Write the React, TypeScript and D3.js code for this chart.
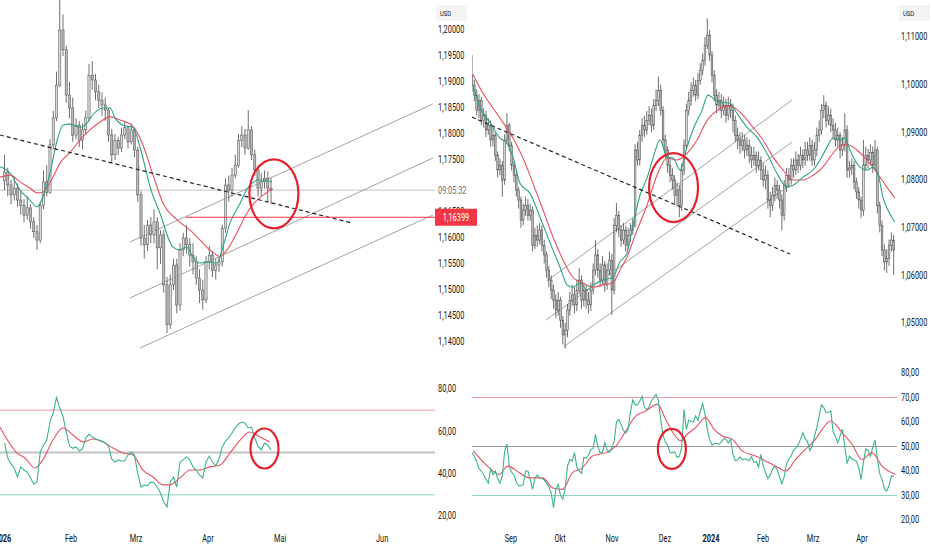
import * as d3 from "d3";
import { useEffect, useRef } from "react";

type Candle = [number, number, number, number]; // open, high, low, close (1/10000)
type Knot = [number, number]; // bar index, value

// ---- left chart: EUR/USD daily, Jan – Apr 2026 ----
const leftCandles: Candle[] = [
  [11710, 11760, 11692, 11727], [11727, 11735, 11680, 11702], [11702, 11712, 11665, 11683], [11683, 11718, 11672, 11696],
  [11696, 11705, 11660, 11673], [11673, 11690, 11645, 11663], [11663, 11675, 11630, 11644], [11644, 11680, 11635, 11658],
  [11658, 11665, 11618, 11631], [11631, 11640, 11600, 11612], [11612, 11625, 11577, 11596], [11596, 11670, 11590, 11663],
  [11663, 11730, 11655, 11708], [11708, 11740, 11680, 11688], [11688, 11790, 11685, 11779], [11779, 11845, 11770, 11831],
  [11831, 11920, 11825, 11894], [11894, 12058, 11890, 12000], [12000, 12030, 11950, 11962], [11962, 11970, 11860, 11875],
  [11875, 11900, 11830, 11850], [11850, 11870, 11785, 11798], [11798, 11830, 11790, 11817], [11817, 11825, 11775, 11788],
  [11788, 11820, 11770, 11808], [11808, 11845, 11800, 11831], [11831, 11935, 11825, 11913], [11913, 11940, 11885, 11904],
  [11904, 11915, 11865, 11881], [11881, 11895, 11850, 11865], [11865, 11880, 11835, 11856], [11856, 11870, 11825, 11846],
  [11846, 11850, 11785, 11798], [11798, 11810, 11745, 11760], [11760, 11800, 11750, 11788], [11788, 11795, 11760, 11773],
  [11773, 11812, 11765, 11798], [11798, 11825, 11790, 11812], [11812, 11815, 11772, 11785], [11785, 11820, 11780, 11808],
  [11808, 11812, 11755, 11769], [11769, 11775, 11670, 11683], [11683, 11690, 11585, 11600], [11600, 11625, 11560, 11587],
  [11587, 11635, 11575, 11625], [11625, 11640, 11590, 11606], [11606, 11655, 11590, 11631], [11631, 11640, 11540, 11581],
  [11581, 11615, 11550, 11606], [11606, 11615, 11495, 11510], [11510, 11525, 11417, 11433], [11433, 11530, 11425, 11510],
  [11510, 11560, 11500, 11548], [11548, 11560, 11455, 11471], [11471, 11590, 11460, 11577], [11577, 11610, 11565, 11600],
  [11600, 11625, 11570, 11587], [11587, 11600, 11545, 11567], [11567, 11590, 11530, 11554], [11554, 11565, 11510, 11523],
  [11523, 11540, 11475, 11500], [11500, 11520, 11462, 11481], [11481, 11565, 11475, 11554], [11554, 11585, 11540, 11567],
  [11567, 11575, 11525, 11538], [11538, 11560, 11520, 11548], [11548, 11565, 11535, 11554], [11554, 11625, 11545, 11619],
  [11619, 11715, 11610, 11702], [11702, 11720, 11670, 11692], [11692, 11735, 11680, 11721], [11721, 11760, 11715, 11740],
  [11740, 11800, 11735, 11788], [11788, 11815, 11775, 11798], [11798, 11810, 11760, 11773], [11773, 11846, 11770, 11808],
  [11808, 11815, 11750, 11760], [11760, 11770, 11720, 11731], [11731, 11740, 11680, 11696], [11696, 11725, 11680, 11708],
  [11708, 11730, 11695, 11715], [11715, 11728, 11670, 11696], [11696, 11715, 11665, 11692],
];

const leftMaFast: Knot[] = [
  [-1.4, 11737], [1.7, 11725], [4.8, 11692], [7.8, 11673], [10, 11660], [11.8, 11679], [14, 11725], [16.2, 11788],
  [18, 11817], [20.2, 11819], [23.2, 11813], [25.4, 11821], [27.2, 11837], [30.3, 11850], [32.5, 11850], [34, 11831],
  [36.5, 11817], [39.5, 11813], [41.7, 11775], [44.8, 11698], [47.8, 11648], [51.8, 11583], [54, 11577], [56, 11583],
  [58, 11563], [60, 11552], [62.3, 11554], [65.4, 11552], [67.2, 11583], [69.4, 11629], [72.5, 11667], [75, 11698],
  [78.6, 11712], [82.3, 11708],
];

const leftMaSlow: Knot[] = [
  [-1.4, 11717], [1.7, 11721], [4.8, 11708], [7.8, 11696], [10, 11687], [11.8, 11688], [14.9, 11717], [17.1, 11744],
  [20.2, 11765], [23.2, 11788], [26.3, 11808], [29.4, 11823], [32.5, 11833], [35.5, 11827], [39.5, 11815], [42.6, 11779],
  [45.7, 11721], [48.8, 11667], [53.1, 11635], [57.1, 11615], [60.2, 11596], [63.2, 11577], [66.3, 11565], [68.5, 11577],
  [71.5, 11610], [74.6, 11648], [77.7, 11673], [80.8, 11688], [82.3, 11696],
];

const leftRsi = [
  54.5, 47.4, 44.6, 42.7, 38.4, 43.2, 41.7, 40.8, 38, 35.1, 36, 50.2, 53.5, 55.9, 64.4, 69, 76, 71, 67, 59.7,
  53, 52, 52.6, 50.7, 51.7, 56.9, 58.7, 57.3, 56.4, 55.9, 55.4, 54.5, 53, 47, 45.5, 46.5, 46, 46, 48.8, 50.2,
  48.8, 39.9, 33.7, 34.7, 34.2, 36.1, 35.6, 33.7, 30.9, 26.6, 24.3, 36.1, 38.4, 33.7, 45.5, 46.5, 47.9, 46.5, 43.2, 41.7,
  39.4, 38, 45.5, 48.3, 45.5, 43.6, 47, 52.6, 55.4, 56.9, 59.2, 61.6, 63.5, 64.4, 63.9, 61.6, 62, 56.9, 53, 51.2,
  54.5, 53.5, 51.2,
];

const leftRsiMa: Knot[] = [
  [-1.4, 62], [3.8, 49.8], [6.3, 47.4], [9.4, 42.7], [11.8, 46.5], [14.9, 55.9], [18, 61.6], [21.1, 58.3],
  [24.2, 55], [27.2, 56.4], [30.3, 55], [33.4, 52.1], [36.5, 49.8], [39.5, 48.8], [42.6, 41.7], [45.7, 38.4],
  [48.8, 34.7], [50.9, 34.7], [54, 38], [57.1, 41.7], [60.2, 41.7], [63.2, 43.2], [66.3, 44.1], [69.4, 49.8],
  [72.5, 55.9], [75.5, 59.7], [78.6, 57.3], [81.7, 55],
];

const leftPriceTicks = [1.14, 1.145, 1.15, 1.155, 1.16, 1.165, 1.175, 1.18, 1.185, 1.19, 1.195, 1.2];
const leftDateTicks = [
  { label: "2026", bar: -0.5, year: true }, { label: "Feb", bar: 20.5, year: false },
  { label: "Mrz", bar: 40.5, year: false }, { label: "Apr", bar: 62.6, year: false },
  { label: "Mai", bar: 84.8, year: false }, { label: "Jun", bar: 116.2, year: false },
];
const leftLevel = 1.16399;
const leftLevelFrom = 55.8;
const leftCountdown = "09:05:32";
const leftDashed: Knot[] = [[-1.4, 1.17981], [106.9, 1.16288]];
const leftChannel: Knot[][] = [
  [[38.6, 1.15923], [131.8, 1.18577]],
  [[38.6, 1.14846], [131.8, 1.17538]],
  [[41.7, 1.13885], [131.8, 1.16442]],
];
const leftCircle = { bar: 82.9, price: 1.1685, rsiBar: 80, rsi: 51.9 };

// ---- right chart: EUR/USD daily, Aug 2023 – Apr 2024 ----
const rightCandles: Candle[] = [
  [11020, 11062, 10985, 10999], [10999, 11010, 10965, 10978], [10978, 10990, 10935, 10946], [10946, 10980, 10930, 10967],
  [10967, 10975, 10915, 10925], [10925, 10950, 10910, 10936], [10936, 10945, 10890, 10905], [10905, 10930, 10895, 10915],
  [10915, 10925, 10870, 10884], [10884, 10910, 10870, 10894], [10894, 10900, 10840, 10852], [10852, 10860, 10805, 10821],
  [10821, 10845, 10810, 10831], [10831, 10840, 10765, 10800], [10800, 10895, 10790, 10884], [10884, 10940, 10875, 10915],
  [10915, 10920, 10860, 10873], [10873, 10880, 10820, 10831], [10831, 10840, 10795, 10810], [10810, 10820, 10765, 10779],
  [10779, 10785, 10740, 10758], [10758, 10765, 10700, 10716], [10716, 10750, 10705, 10737], [10737, 10765, 10725, 10747],
  [10747, 10760, 10715, 10726], [10726, 10750, 10715, 10737], [10737, 10745, 10650, 10663], [10663, 10700, 10655, 10684],
  [10684, 10705, 10660, 10674], [10674, 10710, 10665, 10695], [10695, 10705, 10650, 10663], [10663, 10675, 10625, 10643],
  [10643, 10650, 10595, 10611], [10611, 10620, 10575, 10590], [10590, 10600, 10550, 10569], [10569, 10580, 10530, 10548],
  [10548, 10560, 10510, 10527], [10527, 10565, 10515, 10548], [10548, 10555, 10490, 10506], [10506, 10515, 10455, 10475],
  [10475, 10500, 10446, 10485], [10485, 10540, 10470, 10527], [10527, 10565, 10515, 10548], [10548, 10580, 10535, 10559],
  [10559, 10575, 10520, 10538], [10538, 10590, 10525, 10569], [10569, 10615, 10560, 10590], [10590, 10600, 10530, 10548],
  [10548, 10585, 10535, 10569], [10569, 10580, 10530, 10548], [10548, 10565, 10520, 10538], [10538, 10585, 10525, 10569],
  [10569, 10625, 10560, 10611], [10611, 10674, 10600, 10643], [10643, 10655, 10595, 10611], [10611, 10625, 10575, 10590],
  [10590, 10640, 10580, 10622], [10622, 10630, 10565, 10580], [10580, 10625, 10570, 10611], [10611, 10650, 10600, 10632],
  [10632, 10645, 10517, 10569], [10569, 10720, 10560, 10705], [10705, 10752, 10690, 10726], [10726, 10735, 10680, 10695],
  [10695, 10705, 10660, 10674], [10674, 10710, 10665, 10695], [10695, 10705, 10650, 10663], [10663, 10700, 10655, 10684],
  [10684, 10710, 10670, 10695], [10695, 10720, 10685, 10705], [10705, 10875, 10700, 10863], [10863, 10880, 10830, 10842],
  [10842, 10905, 10830, 10894], [10894, 10930, 10880, 10915], [10915, 10935, 10890, 10905], [10905, 10945, 10895, 10925],
  [10925, 10955, 10915, 10936], [10936, 10950, 10900, 10915], [10915, 10970, 10905, 10957], [10957, 10990, 10945, 10967],
  [10967, 11017, 10955, 10988], [10988, 11000, 10935, 10946], [10946, 10955, 10870, 10884], [10884, 10895, 10845, 10863],
  [10863, 10870, 10815, 10831], [10831, 10845, 10795, 10810], [10810, 10825, 10780, 10800], [10800, 10810, 10750, 10768],
  [10768, 10795, 10745, 10779], [10779, 10790, 10722, 10747], [10747, 10835, 10735, 10821], [10821, 10885, 10810, 10873],
  [10873, 10960, 10865, 10946], [10946, 10985, 10935, 10967], [10967, 11005, 10955, 10988], [10988, 11015, 10975, 10999],
  [10999, 11010, 10965, 10978], [10978, 11025, 10970, 11009], [11009, 11045, 11000, 11030], [11030, 11065, 11020, 11051],
  [11051, 11100, 11040, 11083], [11083, 11139, 11075, 11104], [11104, 11115, 11050, 11062], [11062, 11070, 11005, 11020],
  [11020, 11030, 10965, 10978], [10978, 10990, 10940, 10957], [10957, 10985, 10945, 10967], [10967, 10980, 10930, 10946],
  [10946, 10975, 10935, 10957], [10957, 10970, 10920, 10936], [10936, 10975, 10925, 10957], [10957, 10970, 10930, 10946],
  [10946, 10960, 10900, 10925], [10925, 10935, 10880, 10894], [10894, 10910, 10865, 10884], [10884, 10900, 10855, 10873],
  [10873, 10900, 10860, 10884], [10884, 10895, 10845, 10863], [10863, 10890, 10850, 10873], [10873, 10885, 10835, 10852],
  [10852, 10870, 10825, 10842], [10842, 10870, 10830, 10852], [10852, 10860, 10815, 10831], [10831, 10860, 10820, 10842],
  [10842, 10850, 10800, 10821], [10821, 10835, 10785, 10800], [10800, 10830, 10780, 10810], [10810, 10820, 10740, 10758],
  [10758, 10775, 10722, 10747], [10747, 10785, 10735, 10768], [10768, 10805, 10755, 10789], [10789, 10800, 10760, 10779],
  [10779, 10790, 10740, 10758], [10758, 10770, 10695, 10726], [10726, 10800, 10715, 10789], [10789, 10825, 10775, 10810],
  [10810, 10825, 10785, 10800], [10800, 10845, 10790, 10831], [10831, 10845, 10805, 10821], [10821, 10860, 10810, 10842],
  [10842, 10855, 10815, 10831], [10831, 10870, 10820, 10852], [10852, 10865, 10825, 10842], [10842, 10880, 10830, 10863],
  [10863, 10880, 10840, 10852], [10852, 10890, 10840, 10873], [10873, 10885, 10830, 10842], [10842, 10880, 10830, 10863],
  [10863, 10910, 10850, 10894], [10894, 10925, 10880, 10905], [10905, 10960, 10895, 10946], [10946, 10978, 10930, 10957],
  [10957, 10965, 10910, 10925], [10925, 10955, 10915, 10936], [10936, 10950, 10900, 10915], [10915, 10930, 10885, 10905],
  [10905, 10920, 10870, 10884], [10884, 10910, 10870, 10894], [10894, 10900, 10845, 10863], [10863, 10890, 10850, 10873],
  [10873, 10940, 10860, 10905], [10905, 10915, 10805, 10821], [10821, 10840, 10805, 10825], [10825, 10845, 10810, 10831],
  [10831, 10840, 10780, 10796], [10796, 10805, 10760, 10775], [10775, 10785, 10740, 10758], [10758, 10765, 10720, 10737],
  [10737, 10884, 10725, 10831], [10831, 10870, 10820, 10852], [10852, 10865, 10825, 10842], [10842, 10875, 10830, 10858],
  [10858, 10870, 10815, 10831], [10831, 10884, 10820, 10863], [10863, 10870, 10730, 10747], [10747, 10755, 10690, 10705],
  [10705, 10715, 10640, 10653], [10653, 10665, 10610, 10628], [10628, 10655, 10605, 10636], [10636, 10675, 10620, 10663],
  [10663, 10690, 10650, 10674], [10674, 10685, 10601, 10653],
];

const rightMaFast: Knot[] = [
  [0.4, 10999], [3.4, 10953], [7.7, 10921], [12, 10888], [15, 10877], [17.6, 10848], [20.6, 10793], [24.9, 10772],
  [29.2, 10722], [33.5, 10668], [37.8, 10617], [40.8, 10580], [43.3, 10575], [46.4, 10584], [49.4, 10569], [51.9, 10580],
  [56.2, 10590], [60.5, 10596], [63.5, 10628], [66.5, 10647], [69.1, 10705], [72.1, 10768], [75.1, 10804], [77.7, 10846],
  [80.7, 10884], [83.7, 10848], [86.3, 10846], [89.3, 10821], [92.3, 10869], [94.8, 10905], [98.7, 10946], [101.3, 10978],
  [103.4, 10972], [106.4, 10963], [110.7, 10961], [113.7, 10940], [118, 10911], [122.3, 10890], [126.6, 10856], [130.9, 10814],
  [135.2, 10785], [137.8, 10789], [142.1, 10806], [146.4, 10821], [149.4, 10842], [152.4, 10869], [154.9, 10888], [157.9, 10884],
  [160.1, 10888], [162.2, 10863], [166.5, 10827], [169.5, 10821], [172.1, 10827], [174.2, 10814], [176.4, 10764], [178.5, 10737],
  [181.5, 10712],
];

const rightMaSlow: Knot[] = [
  [0.4, 11022], [4.7, 10982], [9, 10951], [13.3, 10921], [17.6, 10888], [21.9, 10846], [26.2, 10793], [30.5, 10737],
  [34.8, 10680], [39.1, 10632], [43.3, 10596], [47.6, 10584], [51.9, 10575], [56.2, 10580], [60.5, 10584], [63.5, 10611],
  [66.5, 10638], [70, 10684], [75.1, 10747], [79.4, 10810], [83.7, 10846], [88, 10842], [92.3, 10856], [96.6, 10884],
  [100.9, 10925], [105.2, 10946], [109.4, 10955], [112, 10953], [116.3, 10936], [120.6, 10911], [124.9, 10884], [129.2, 10848],
  [133.5, 10821], [137.8, 10800], [142.1, 10800], [146.4, 10810], [150.6, 10827], [154.9, 10856], [159.2, 10875], [162.2, 10873],
  [165.2, 10863], [169.5, 10842], [172.1, 10827], [175.1, 10806], [178.1, 10785], [181.5, 10762],
];

const rightRsi = [
  47.5, 46, 44, 41, 40, 38.5, 36.6, 35, 41, 38.5, 40, 37, 35, 38, 48, 51, 42, 39.5, 38.4, 35.5,
  34, 34, 34.5, 40, 40, 36.5, 32.5, 37, 38.4, 37.2, 37, 36.3, 35, 33.5, 31, 25, 32.5, 34.5, 30, 28.5,
  33, 42, 44.7, 44, 47.5, 41.5, 40, 39, 45.5, 45.2, 46.5, 48.8, 49.2, 55, 50, 47.5, 47.5, 51.5, 48.5, 47.5,
  49.5, 52, 60, 61, 59, 56.5, 55.5, 57, 64, 69, 67, 67, 68.5, 70.5, 66, 65, 66.3, 68.5, 70, 71.3,
  68.7, 61, 54.5, 51.8, 50.5, 47.5, 47.5, 47.8, 45.6, 46, 49.5, 65.2, 57, 60.7, 60.3, 60, 62.5, 60.6, 64.5, 67.5,
  63.2, 57, 52.9, 50.6, 51.2, 51.3, 50.9, 51.8, 53.2, 53, 51.4, 52.9, 46.8, 44.2, 44.5, 45.8, 44.6, 45, 44.7, 44.3,
  45.8, 43.5, 43.8, 41.6, 46.8, 42, 39.3, 36.9, 38.3, 40.7, 42, 40.5, 37.5, 34.8, 37.7, 43, 45, 46, 48.6, 49.3,
  50.7, 52.9, 55.7, 53.2, 52, 48.2, 50.3, 54.2, 57.7, 62.5, 67, 65.9, 63.8, 64, 64.5, 56, 54, 51.5, 54.5, 57,
  50, 43, 46.1, 45.1, 44.5, 44, 41.3, 36.5, 43.5, 49, 48.5, 46, 49.5, 52.6, 45, 38.8, 36.6, 32.8, 31.9, 34,
  38, 37.8,
];

const rightRsiMa: Knot[] = [
  [0.6, 48.2], [7.4, 41.3], [11.7, 38.6], [15.3, 42], [20.3, 39.3], [24.6, 37.2], [30.3, 37.2], [34.6, 33.1],
  [38.9, 32.5], [43.1, 39.3], [47.4, 41.3], [51.7, 46.1], [57.4, 47.5], [61.7, 50.2], [66, 56.3], [70.3, 62.5],
  [74.6, 64.5], [79.6, 67.3], [83.1, 61.1], [86.7, 55], [89.6, 52.3], [92.4, 55], [96, 57.7], [100.3, 61.8],
  [103.9, 57], [107.4, 54.3], [111.7, 52.9], [116, 48.2], [121.7, 46.1], [126, 44.1], [130.3, 42], [134.6, 40],
  [138.9, 44.7], [143.1, 48.8], [147.4, 52.9], [150.3, 57], [153.9, 60.4], [158.9, 55.7], [163.1, 50.9], [167.4, 44.7],
  [171.7, 47.5], [176, 42], [181.7, 38.6],
];

const rightPriceTicks = [1.05, 1.06, 1.07, 1.08, 1.09, 1.1, 1.11];
const rightDateTicks = [
  { label: "Sep", bar: 16.7, year: false }, { label: "Okt", bar: 37.8, year: false },
  { label: "Nov", bar: 60.1, year: false }, { label: "Dez", bar: 82.8, year: false },
  { label: "2024", bar: 102.6, year: true }, { label: "Feb", bar: 124.9, year: false },
  { label: "Mrz", bar: 146.4, year: false }, { label: "Apr", bar: 167.4, year: false },
];
const rightDashed: Knot[] = [[0, 1.09319], [136.5, 1.06447]];
const rightChannel: Knot[][] = [
  [[32.2, 1.05881], [137.3, 1.09675]],
  [[31.8, 1.05063], [137.3, 1.08795]],
  [[39.1, 1.04497], [136.5, 1.07893]],
];
const rightCircle = { bar: 86.5, price: 1.07841, rsiBar: 85.8, rsi: 49 };

const leftRsiTicks = [20, 40, 60, 80];
const rightRsiTicks = [20, 30, 40, 50, 60, 70, 80];

const FONT = "Roboto, 'Liberation Sans', sans-serif";
const TEXT = "#131722";
const GREEN = "#2ba383";
const RED = "#e8505f";
const CIRCLE = "#e3202e";

const comma = (s: string) => s.replace(".", ",");

const panels = [
  {
    id: "l",
    candles: leftCandles, maFast: leftMaFast, maSlow: leftMaSlow, rsi: leftRsi, rsiMa: leftRsiMa,
    priceTicks: leftPriceTicks, dateTicks: leftDateTicks, rsiTicks: leftRsiTicks,
    dashed: leftDashed, channel: leftChannel, circle: leftCircle,
    level: leftLevel, levelFrom: leftLevelFrom, countdown: leftCountdown,
    barRange: [4.5, 271], plotX: [0, 435], priceDomain: [1.14, 1.2], priceRange: [342, 30],
    rsiRange: [516, 389], axisX: 438, bodyW: 2.2, midWidth: 2.2, midColor: "#c4c4c4",
  },
  {
    id: "r",
    candles: rightCandles, maFast: rightMaFast, maSlow: rightMaSlow, rsi: rightRsi, rsiMa: rightRsiMa,
    priceTicks: rightPriceTicks, dateTicks: rightDateTicks, rsiTicks: rightRsiTicks,
    dashed: rightDashed, channel: rightChannel, circle: rightCircle,
    level: null, levelFrom: 0, countdown: null,
    barRange: [472, 893.7], plotX: [472, 897], priceDomain: [1.05, 1.11], priceRange: [323, 37],
    rsiRange: [520, 373], axisX: 901, bodyW: 1.7, midWidth: 1, midColor: "#9a9a9a",
  },
];

function label(g, x, y, text, opts: any = {}) {
  g.append("text")
    .attr("transform", `translate(${x},${y}) scale(0.74,1)`)
    .attr("text-anchor", opts.anchor || "start")
    .attr("dominant-baseline", "central")
    .attr("font-family", FONT)
    .attr("font-size", opts.size || 10)
    .attr("font-weight", opts.bold ? 700 : 400)
    .attr("fill", opts.color || TEXT)
    .text(text);
}

function drawPanel(svg, defs, p) {
  const x = d3.scaleLinear().domain([0, p.candles.length - 1]).range(p.barRange);
  const y = d3.scaleLinear().domain(p.priceDomain).range(p.priceRange);
  const r = d3.scaleLinear().domain([20, 80]).range(p.rsiRange);
  const px = (v: number) => y(v / 10000);
  const [x0, x1] = p.plotX;

  defs.append("clipPath").attr("id", `clip-${p.id}`)
    .append("rect").attr("x", x0).attr("y", 0).attr("width", x1 - x0).attr("height", 530);
  const g = svg.append("g").attr("clip-path", `url(#clip-${p.id})`);

  // RSI bands
  const bands = [
    { v: 70, color: "#f29aa3", w: 1 },
    { v: 50, color: p.midColor, w: p.midWidth },
    { v: 30, color: "#8fd6bd", w: 1 },
  ];
  g.selectAll(".band").data(bands).join("line")
    .attr("x1", x0).attr("x2", x1)
    .attr("y1", (d) => r(d.v)).attr("y2", (d) => r(d.v))
    .attr("stroke", (d) => d.color).attr("stroke-width", (d) => d.w);

  // last price line
  if (p.countdown) {
    const last = p.candles[p.candles.length - 1][3];
    g.append("line").attr("x1", x0).attr("x2", x1).attr("y1", px(last)).attr("y2", px(last))
      .attr("stroke", "#cdbfc1").attr("stroke-width", 1);
  }

  // channel lines
  const seg = d3.line<Knot>().x((d) => x(d[0])).y((d) => y(d[1]));
  p.channel.forEach((c) => {
    g.append("path").attr("d", seg(c)).attr("stroke", "#8a8a8a").attr("stroke-width", 0.8).attr("fill", "none");
  });

  // candles
  const cg = g.append("g");
  cg.selectAll("line").data(p.candles).join("line")
    .attr("x1", (_d, i) => x(i)).attr("x2", (_d, i) => x(i))
    .attr("y1", (d) => px(d[1])).attr("y2", (d) => px(d[2]))
    .attr("stroke", "#4a4a4a").attr("stroke-width", 0.8);
  cg.selectAll("rect").data(p.candles).join("rect")
    .attr("x", (_d, i) => x(i) - p.bodyW / 2)
    .attr("y", (d) => px(Math.max(d[0], d[3])))
    .attr("width", p.bodyW)
    .attr("height", (d) => Math.max(0.8, Math.abs(px(d[0]) - px(d[3]))))
    .attr("fill", (d) => (d[3] >= d[0] ? "#d8d8d8" : "#b8b8b8"))
    .attr("stroke", "#4a4a4a").attr("stroke-width", 0.5);

  // moving averages
  const smooth = d3.line<Knot>().x((d) => x(d[0])).y((d) => px(d[1])).curve(d3.curveMonotoneX);
  g.append("path").attr("d", smooth(p.maSlow)).attr("fill", "none").attr("stroke", RED).attr("stroke-width", 1.1);
  g.append("path").attr("d", smooth(p.maFast)).attr("fill", "none").attr("stroke", GREEN).attr("stroke-width", 1.1);

  // dashed trend line
  g.append("path").attr("d", seg(p.dashed)).attr("stroke", "#222").attr("stroke-width", 1.2)
    .attr("stroke-dasharray", "4,3").attr("fill", "none");

  // horizontal level
  if (p.level) {
    g.append("line").attr("x1", x(p.levelFrom)).attr("x2", x1)
      .attr("y1", y(p.level)).attr("y2", y(p.level))
      .attr("stroke", "#f23645").attr("stroke-width", 1.2);
  }

  // RSI
  const rsiLine = d3.line<number>().x((_d, i) => x(i)).y((d) => r(d));
  const rsiMaLine = d3.line<Knot>().x((d) => x(d[0])).y((d) => r(d[1])).curve(d3.curveMonotoneX);
  g.append("path").attr("d", rsiMaLine(p.rsiMa)).attr("fill", "none").attr("stroke", RED).attr("stroke-width", 1.1);
  g.append("path").attr("d", rsiLine(p.rsi)).attr("fill", "none").attr("stroke", "#3bb48c").attr("stroke-width", 1.1);

  // highlight circles
  g.append("ellipse").attr("cx", x(p.circle.bar)).attr("cy", y(p.circle.price))
    .attr("rx", 24.5).attr("ry", 34.5).attr("fill", "none").attr("stroke", CIRCLE).attr("stroke-width", 2.2);
  g.append("ellipse").attr("cx", x(p.circle.rsiBar)).attr("cy", r(p.circle.rsi))
    .attr("rx", 14).attr("ry", 20).attr("fill", "none").attr("stroke", CIRCLE).attr("stroke-width", 2.2);

  // axes (outside clip)
  const a = svg.append("g");
  a.append("rect").attr("x", p.axisX - 2).attr("y", 5).attr("width", 31).attr("height", 16).attr("fill", "#f4f4f4");
  label(a, p.axisX + 2, 13, "USD", { size: 8 });
  p.priceTicks.forEach((v) => label(a, p.axisX, y(v), comma(d3.format(".5f")(v))));
  p.rsiTicks.forEach((v) => label(a, p.axisX, r(v), comma(d3.format(".2f")(v))));
  p.dateTicks.forEach((t) => label(a, x(t.bar), 539, t.label, { anchor: "middle", bold: t.year }));

  if (p.countdown) {
    const last = p.candles[p.candles.length - 1][3];
    label(a, p.axisX, px(last), p.countdown, { color: "#6a6d78" });
  }
  if (p.level) {
    const ly = y(p.level);
    a.append("rect").attr("x", x1).attr("y", ly - 8.5).attr("width", 42).attr("height", 17).attr("fill", "#f23645");
    label(a, x1 + 21, ly, comma(d3.format(".5f")(p.level)), { anchor: "middle", color: "#fff" });
  }
}

const App = () => {
  const ref = useRef<SVGSVGElement | null>(null);

  useEffect(() => {
    if (!ref.current) return;
    const svg = d3.select(ref.current);
    svg.selectAll("*").remove();
    const defs = svg.append("defs");
    panels.forEach((p) => drawPanel(svg, defs, p));
  }, []);

  return (
    <svg
      ref={ref}
      width={932}
      height={550}
      style={{ position: "fixed", left: 0, top: 0, background: "#fff" }}
    />
  );
};

export default App;
